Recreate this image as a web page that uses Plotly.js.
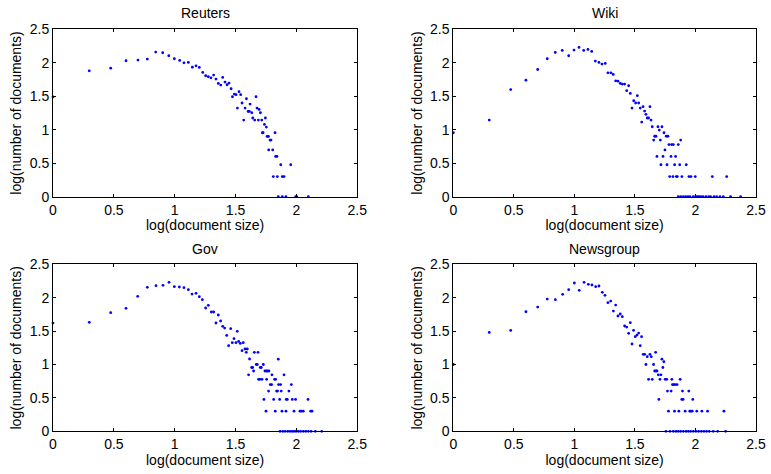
<!DOCTYPE html>
<html>
<head>
<meta charset="utf-8">
<script src="https://cdn.plot.ly/plotly-3.0.1.min.js"></script>
<style>html,body{margin:0;padding:0;background:#fff;}#chart{width:771px;height:474px;}</style>
</head>
<body>
<div id="chart"></div>
<script>
// Panel titles
const panelTitles = ["Reuters", "Wiki", "Gov", "Newsgroup"];
const xTitle = "log(document size)";
const yTitle = "log(number of documents)";
const tickVals = [0, 0.5, 1, 1.5, 2, 2.5];
const tickText = ["0", "0.5", "1", "1.5", "2", "2.5"];

// Reuters: log(document size), log(number of documents)
const reutersX = [0, 0.298, 0.474, 0.600, 0.698, 0.775, 0.844, 0.901, 0.951, 0.997, 1.041, 1.076, 1.112, 1.145, 1.175, 1.202,
  1.230, 1.254, 1.276, 1.298, 1.320, 1.339, 1.358, 1.378, 1.394, 1.413, 1.430, 1.446, 1.463, 1.474, 1.490, 1.504, 1.515, 1.528,
  1.542, 1.553, 1.567, 1.578, 1.589, 1.603, 1.613, 1.619, 1.633, 1.641, 1.657, 1.668, 1.676, 1.687, 1.693, 1.704, 1.715, 1.720,
  1.726, 1.737, 1.745, 1.753, 1.759, 1.770, 1.783, 1.791, 1.772, 1.805, 1.824, 1.829, 1.840, 1.871, 1.953, 1.810, 1.843, 1.884, 1.898,
  1.851, 1.884, 1.914, 1.994, 2.002, 2.098];
const reutersY = [1.49, 1.88, 1.92, 2.03, 2.04, 2.055, 2.16, 2.15, 2.105, 2.06, 2.035, 2.00, 2.005, 1.935, 1.955, 1.93,
  1.856, 1.806, 1.791, 1.776, 1.816, 1.756, 1.692, 1.667, 1.781, 1.712, 1.672, 1.697, 1.612, 1.493, 1.533, 1.523, 1.324, 1.568,
  1.523, 1.399, 1.145, 1.324, 1.463, 1.274, 1.274, 1.384, 1.254, 1.175, 1.145, 1.493, 1.324, 1.145, 1.304, 1.254, 1.145, 0.955,
  0.955, 1.080, 1.175, 1.040, 0.900, 0.900, 0.846, 0.846, 0.699, 0.699, 0.955, 0.602, 0.602, 0.477, 0.477, 0.301, 0.301, 0.301, 0.301,
  0, 0, 0, 0, 0, 0];

// Wiki
const wikiX = [0, 0.297, 0.474, 0.600, 0.697, 0.776, 0.842, 0.900, 0.953, 0.997, 1.038, 1.077, 1.112, 1.143, 1.173, 1.203, 1.228,
  1.255, 1.277, 1.302, 1.321, 1.341, 1.360, 1.379, 1.396, 1.415, 1.432, 1.448, 1.462, 1.476, 1.490, 1.506, 1.520, 1.531, 1.544,
  1.567, 1.556, 1.580, 1.591, 1.602, 1.613, 1.624, 1.633, 1.643, 1.655, 1.663, 1.674, 1.682, 1.690, 1.701, 1.710, 1.715, 1.723,
  1.732, 1.740, 1.748, 1.759, 1.765, 1.773, 1.781, 1.787, 1.798, 1.803, 1.814, 1.817, 1.828, 1.836, 1.842, 1.858, 1.850, 1.870,
  1.878, 1.888, 1.924, 1.946, 1.963, 1.998, 2.139, 2.258,
  1.858, 1.878, 1.900, 1.919, 1.938, 1.955, 1.982, 2.002, 2.015, 2.029, 2.045, 2.064, 2.087, 2.109, 2.125, 2.153, 2.175, 2.202,
  2.230, 2.290, 2.373];
const wikiY = [0.955, 1.145, 1.60, 1.74, 1.90, 2.06, 2.155, 2.185, 2.105, 2.19, 2.23, 2.185, 2.20, 2.17, 2.025, 2.005, 1.98,
  1.99, 1.85, 1.85, 1.826, 1.731, 1.726, 1.692, 1.682, 1.682, 1.583, 1.657, 1.543, 1.324, 1.433, 1.399, 1.508, 1.399, 1.324,
  1.344, 1.115, 1.279, 1.230, 1.175, 1.175, 1.344, 1.145, 1.045, 0.846, 0.903, 0.903, 0.602, 1.045, 0.995, 0.846, 0.477, 1.045,
  0.602, 0.955, 0.699, 0.903, 0.477, 0.903, 0.778, 0.301, 0.602, 0.778, 0.301, 0.778, 0.477, 0.602, 0.301, 0.778, 0.301, 0.477,
  0.846, 0.301, 0.477, 0.301, 0.301, 0.301, 0.301, 0.301,
  0, 0, 0, 0, 0, 0, 0, 0, 0, 0, 0, 0, 0, 0, 0, 0, 0, 0,
  0, 0, 0];

// Gov
const govX = [0, 0.298, 0.474, 0.600, 0.696, 0.775, 0.846, 0.904, 0.953, 0.997, 1.038, 1.076, 1.112, 1.142, 1.175, 1.202, 1.227,
  1.254, 1.276, 1.301, 1.320, 1.358, 1.339, 1.377, 1.394, 1.410, 1.427, 1.460, 1.443, 1.514, 1.473, 1.487, 1.503, 1.525, 1.539,
  1.563, 1.553, 1.577, 1.596, 1.588, 1.615, 1.654, 1.684, 1.632, 1.640, 1.670, 1.678, 1.728, 1.703, 1.711, 1.648, 1.607, 1.741,
  1.752, 1.763, 1.774, 1.799, 1.851, 1.689, 1.700, 1.717, 1.755, 1.821, 1.829, 1.898, 1.785, 1.796, 1.853, 1.870, 1.958, 1.771,
  1.837, 1.845, 1.875, 1.938, 1.733, 1.813, 1.862, 1.916, 1.925, 1.966, 1.993, 2.095, 1.750, 1.826, 1.881, 1.914, 1.980, 2.029,
  2.040, 2.056, 2.117, 2.128,
  1.865, 1.887, 1.906, 1.928, 1.947, 1.964, 1.980, 1.997, 2.016, 2.035, 2.057, 2.077, 2.098, 2.120, 2.155, 2.208];
const govY = [1.62, 1.632, 1.776, 1.841, 2.021, 2.156, 2.18, 2.185, 2.23, 2.165, 2.16, 2.15, 2.12, 2.055, 2.065, 2.015, 1.97,
  1.846, 1.886, 1.786, 1.786, 1.741, 1.621, 1.651, 1.571, 1.546, 1.436, 1.536, 1.282, 1.496, 1.327, 1.386, 1.327, 1.346, 1.316,
  1.327, 1.207, 1.232, 1.232, 1.182, 1.082, 1.182, 1.182, 0.955, 0.955, 1.0, 1.0, 1.0, 0.955, 0.955, 0.903, 0.846, 0.903,
  0.903, 0.903, 0.903, 0.846, 1.079, 0.778, 0.778, 0.778, 0.778, 0.778, 0.778, 0.846, 0.699, 0.699, 0.699, 0.699, 0.699, 0.602,
  0.602, 0.602, 0.602, 0.602, 0.477, 0.477, 0.477, 0.477, 0.477, 0.477, 0.477, 0.477, 0.301, 0.301, 0.301, 0.301, 0.301, 0.301,
  0.301, 0.301, 0.301, 0.301,
  0, 0, 0, 0, 0, 0, 0, 0, 0, 0, 0, 0, 0, 0, 0, 0];

// Newsgroup
const newsX = [0, 0.297, 0.474, 0.600, 0.697, 0.776, 0.843, 0.903, 0.953, 1.000, 1.040, 1.080, 1.115, 1.145, 1.176, 1.203, 1.231,
  1.253, 1.277, 1.300, 1.341, 1.322, 1.360, 1.379, 1.396, 1.415, 1.432, 1.462, 1.448, 1.489, 1.476, 1.503, 1.517, 1.531, 1.555,
  1.544, 1.569, 1.580, 1.591, 1.602, 1.624, 1.635, 1.654, 1.671, 1.613, 1.643, 1.663, 1.674, 1.682, 1.693, 1.715, 1.723, 1.739,
  1.731, 1.707, 1.750, 1.763, 1.805, 1.874, 1.698, 1.810, 1.821, 1.832, 1.848, 1.769, 1.799, 1.893, 1.945, 1.887, 1.898, 1.978,
  1.777, 1.827, 1.863, 1.915, 1.953, 1.962, 1.973, 2.011, 2.053, 2.100, 2.235,
  1.756, 1.789, 1.817, 1.839, 1.858, 1.878, 1.900, 1.922, 1.941, 1.960, 1.982, 2.004, 2.026, 2.048, 2.070, 2.092, 2.114, 2.147,
  2.183, 2.249];
const newsY = [1.0, 1.48, 1.51, 1.79, 1.86, 1.98, 1.97, 2.05, 2.12, 2.22, 2.11, 2.23, 2.20, 2.19, 2.165, 2.175, 2.08,
  2.035, 1.925, 1.95, 1.89, 1.80, 1.726, 1.756, 1.716, 1.576, 1.561, 1.626, 1.466, 1.511, 1.307, 1.417, 1.441, 1.471, 1.417,
  1.282, 1.152, 1.152, 1.0, 1.117, 1.152, 1.117, 1.0, 1.182, 0.778, 0.778, 0.903, 0.903, 0.903, 0.846, 0.846, 1.079, 1.041,
  0.955, 0.778, 0.778, 0.778, 0.778, 0.778, 0.477, 0.699, 0.699, 0.699, 0.699, 0.602, 0.602, 0.602, 0.602, 0.477, 0.477, 0.477,
  0.301, 0.301, 0.301, 0.301, 0.301, 0.301, 0.301, 0.301, 0.301, 0.301, 0.301,
  0, 0, 0, 0, 0, 0, 0, 0, 0, 0, 0, 0, 0, 0, 0, 0, 0, 0,
  0, 0];

const seriesX = [reutersX, wikiX, govX, newsX];
const seriesY = [reutersY, wikiY, govY, newsY];

const W = 771, H = 474;
const xDomains = [[53 / W, 357.3 / W], [453.3 / W, 756 / W], [53 / W, 357.3 / W], [453.3 / W, 756 / W]];
const yDomains = [[1 - 196.7 / H, 1 - 29.3 / H], [1 - 196.7 / H, 1 - 29.3 / H], [1 - 431.3 / H, 1 - 264.3 / H], [1 - 431.3 / H, 1 - 264.3 / H]];
const titleY = [1 - 13 / H, 1 - 13 / H, 1 - 248.5 / H, 1 - 248.5 / H];

const font = "Liberation Sans, Arial, Helvetica, sans-serif";
const traces = [];
const layout = {
  width: W, height: H,
  margin: {l: 0, r: 0, t: 0, b: 0},
  paper_bgcolor: "#ffffff", plot_bgcolor: "#ffffff",
  showlegend: false,
  font: {family: font, size: 14, color: "#000"},
  annotations: []
};

function axisCommon() {
  return {
    range: [0, 2.5], tickmode: "array", tickvals: tickVals, ticktext: tickText,
    ticks: "inside", ticklen: 3, tickwidth: 1, tickcolor: "#000",
    showline: true, linecolor: "#000", linewidth: 1, mirror: "ticks",
    showgrid: false, zeroline: false, fixedrange: true,
    tickfont: {family: font, size: 14, color: "#000"}
  };
}

for (let i = 0; i < 4; i++) {
  const s = i === 0 ? "" : String(i + 1);
  traces.push({
    type: "scatter", mode: "markers",
    x: seriesX[i], y: seriesY[i],
    xaxis: "x" + s, yaxis: "y" + s,
    marker: {color: "#0000ff", size: 2.8},
    cliponaxis: false, hoverinfo: "x+y"
  });
  const xa = axisCommon();
  xa.domain = xDomains[i];
  xa.anchor = "y" + s;
  xa.title = {text: xTitle, font: {family: font, size: 14, color: "#000"}, standoff: 0};
  const ya = axisCommon();
  ya.domain = yDomains[i];
  ya.anchor = "x" + s;
  ya.title = {text: yTitle, font: {family: font, size: 14, color: "#000"}, standoff: 4};
  layout["xaxis" + s] = xa;
  layout["yaxis" + s] = ya;
  layout.annotations.push({
    text: panelTitles[i], xref: "paper", yref: "paper",
    x: (xDomains[i][0] + xDomains[i][1]) / 2, y: titleY[i],
    xanchor: "center", yanchor: "middle", showarrow: false,
    font: {family: font, size: 14, color: "#000"}
  });
}

Plotly.newPlot("chart", traces, layout, {displayModeBar: false, staticPlot: true});
</script>
</body>
</html>
